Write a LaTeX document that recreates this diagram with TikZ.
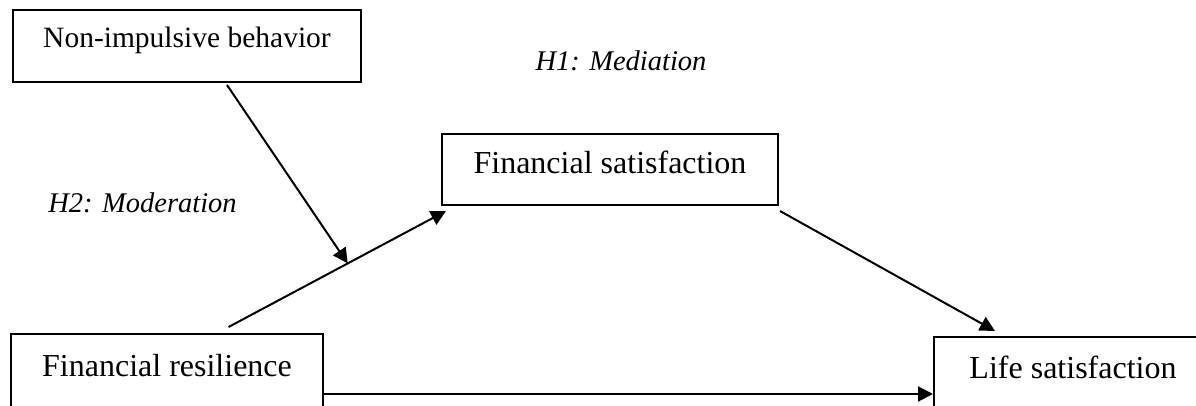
\documentclass[tikz,border=0pt]{standalone}
\usepackage{fontspec}
\setmainfont{Liberation Serif}
\usetikzlibrary{arrows.meta,calc}
\tikzset{
  box/.style={draw, line width=2pt, rectangle, inner sep=0pt, anchor=north west,
    font=\fontsize{32}{38}\selectfont},
  lbl/.style={inner sep=0pt, anchor=base, font=\fontsize{28.5}{34}\selectfont\itshape},
  arr/.style={line width=2pt, -{Triangle[length=15pt,width=15pt]}},
}
\begin{document}
\begin{tikzpicture}[x=1pt,y=-1pt]
\clip (0,0) rectangle (1196,406);
\fill[white] (0,0) rectangle (1196,406);
% boxes
\node[box, minimum width=348pt, text height=38pt, text depth=34pt, font=\fontsize{29.5}{35}\selectfont] (np) at (12,9) {Non-impulsive behavior};
\node[box, minimum width=336pt, text height=40pt, text depth=31pt] (fs) at (441,133) {Financial satisfaction};
\node[box, minimum width=312pt, text height=42pt, text depth=55pt] (fr) at (10,333) {Financial resilience};
\node[box, minimum width=278pt, text height=41pt, text depth=53pt] (ls) at (933,336) {Life satisfaction};
% labels
\node[lbl] (h1) at (621,71) {H1: Mediation};
\node[lbl] (h2) at (142.5,212) {H2: Moderation};
% connector end points
\coordinate (a) at ($(fr.north west)!0.696!(fr.north east)+(0pt,6pt)$);
\coordinate (b) at ($(fs.south west)+(5pt,-5pt)$);
\coordinate (m) at ($(a)!0.548!(b)$);
\coordinate (n) at ($(np.south west)+(215pt,-2pt)$);
% connectors
\draw[arr] (a) -- (b);
\draw[arr] (n) -- (m);
\draw[arr] ($(fs.south east)+(1pt,-5pt)$) -- ($(ls.north west)+(62pt,5pt)$);
\draw[arr] ($(fr.north east)+(0pt,-61pt)$) coordinate (h) -- (h -| ls.west);
\end{tikzpicture}
\end{document}
